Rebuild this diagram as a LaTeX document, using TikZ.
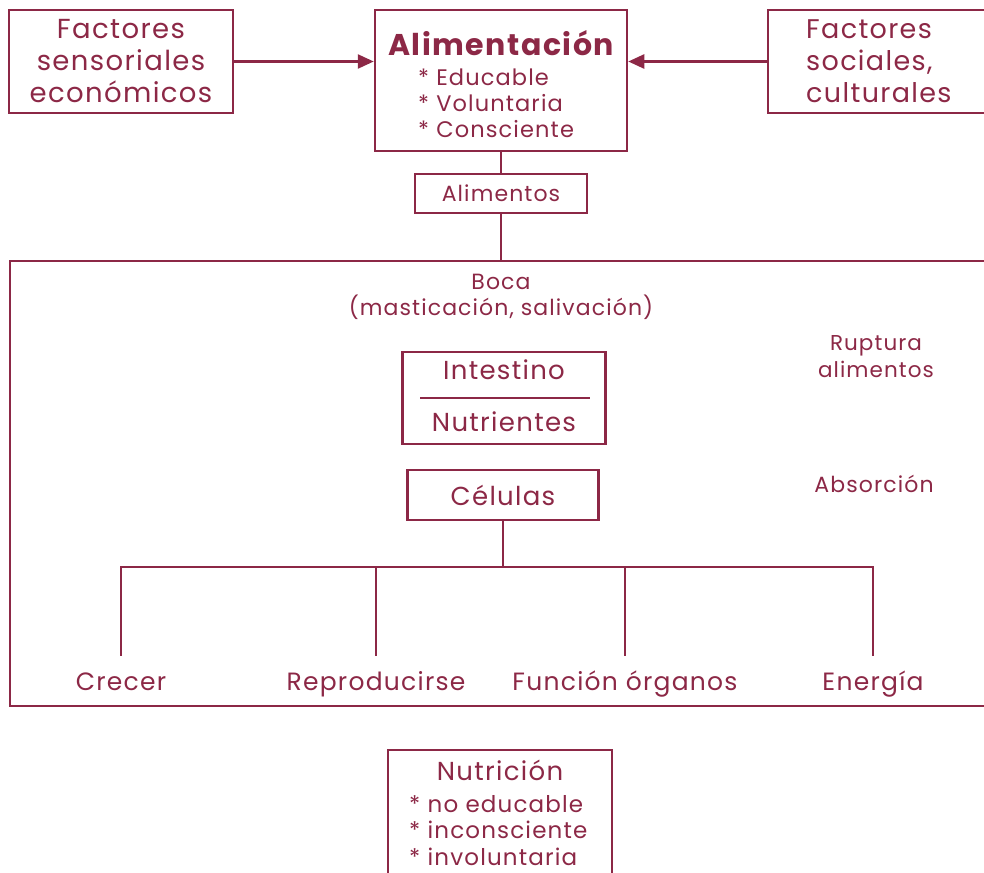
\documentclass[tikz,border=0pt]{standalone}
\usepackage{fontspec}
\setmainfont{Poppins}[LetterSpace=5]
\usetikzlibrary{arrows.meta}
\definecolor{vino}{RGB}{140,40,70}
\newcommand{\tam}[2]{\fontsize{#1}{#2}\selectfont}
\tikzset{
  caja/.style={draw=vino, line width=2.5pt, inner sep=0pt},
  txt/.style={text=vino, inner sep=0pt, align=center},
  linea/.style={draw=vino, line width=2.5pt},
  flecha/.style={linea, -{Triangle[length=16pt,width=14pt]}},
}
\begin{document}
\begin{tikzpicture}[x=1pt,y=-1pt]
  \clip (0,0) rectangle (984,872);
  % cabecera
  \node[caja, txt, minimum width=224pt, minimum height=103pt, font=\tam{27.5}{32}] (sens) at (121,61.5) {Factores\\sensoriales\\económicos};
  \node[caja, minimum width=252pt, minimum height=141pt] (alim) at (501,80.5) {};
  \node[txt, font=\tam{30}{32}\bfseries] (alimtit) at (501,43) {Alimentación};
  \node[txt, anchor=west, align=left, font=\tam{22.5}{26}] (alimlst) at (418,103.5) {* Educable\\* Voluntaria\\* Consciente};
  \node[caja, minimum width=232pt, minimum height=103pt] (soc) at (884,61.5) {};
  \node[txt, anchor=west, align=left, font=\tam{27}{32}] (soctxt) at (806,61.5) {Factores\\sociales,\\culturales};
  \draw[flecha] (sens.east) -- (sens.east -| alim.west);
  \draw[flecha] (soc.west) -- (soc.west -| alim.east);
  \node[caja, txt, minimum width=172pt, minimum height=39pt, font=\tam{22}{24}] (alimentos) at (501,193.5) {Alimentos};
  \draw[linea] (alim.south) -- (alimentos.north);
  % cuerpo
  \node[caja, minimum width=1000pt, minimum height=445pt] (cuerpo) at (510,483.5) {};
  \draw[linea] (alimentos.south) -- (alimentos.south |- cuerpo.north);
  \node[txt, font=\tam{22}{26}] (boca) at (501,297) {Boca\\(masticación, salivación)};
  \node[caja, minimum width=203pt, minimum height=92pt] (intest) at (504,398) {};
  \node[txt, font=\tam{26}{26}] (intA) at (504,370) {Intestino};
  \node[txt, font=\tam{26}{26}] (intB) at (504,422) {Nutrientes};
  \draw[linea] ([xshift=-84pt]intest.center) -- ([xshift=86pt]intest.center);
  \node[txt, font=\tam{21.5}{27}] (rupt) at (876,356.5) {Ruptura\\alimentos};
  \node[caja, txt, minimum width=191pt, minimum height=50pt, font=\tam{26}{26}] (cel) at (503,495) {Células};
  \node[txt, font=\tam{22}{26}] (absor) at (874,484) {Absorción};
  \coordinate (bar) at (cel.south |- 0,567);
  \draw[linea] (cel.south) -- (bar);
  \foreach \x/\t/\n in {121/Crecer/crecer, 376/Reproducirse/repro, 625/Función órganos/funcion, 873/Energía/energia} {
    \node[txt, anchor=base, text height=34pt, font=\tam{25}{26}] (\n) at (\x,690) {\t};
    \draw[linea] (bar) -| (\n.north);
  }
  % nutricion
  \node[caja, minimum width=224pt, minimum height=150pt] (nutri) at (500,825) {};
  \node[txt, font=\tam{26}{26}] (nutritit) at (500,770) {Nutrición};
  \node[txt, anchor=west, align=left, font=\tam{23}{26.5}] (nutrilst) at (409,830.5) {* no educable\\* inconsciente\\* involuntaria};
\end{tikzpicture}
\end{document}
